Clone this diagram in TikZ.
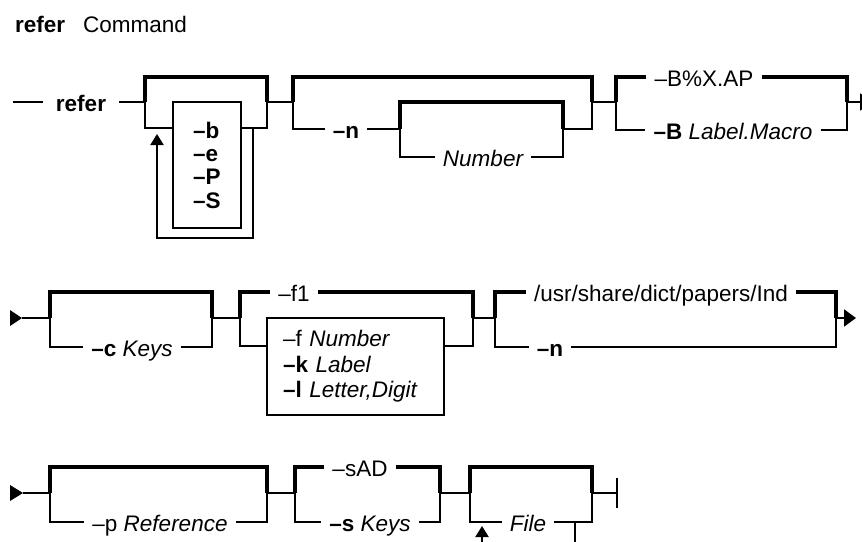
\documentclass[tikz,border=0pt]{standalone}
\usepackage{fontspec}
\setmainfont{Liberation Sans}
\usetikzlibrary{arrows.meta}
\newcommand{\railsize}{\fontsize{22.5}{24}\selectfont}
\tikzset{
  rail/.style={line width=2.2pt},
  railtop/.style={line width=4pt},
  lbl/.style={inner xsep=8pt,inner ysep=0pt,text height=19pt,text depth=1pt,
              font=\railsize},
  kw/.style={lbl,font=\railsize\bfseries},
  flagtxt/.style={anchor=base west,inner sep=0pt,font=\railsize\bfseries},
  optbox/.style={draw,line width=2.2pt,inner sep=0pt},
  railtip/.style={-{Triangle[length=12pt,width=17pt]}},
  looptip/.style={-{Triangle[length=11pt,width=13pt]}}
}

\begin{document}
\begin{tikzpicture}[x=1pt,y=-1pt,line join=miter]
  \useasboundingbox (0,0) rectangle (862,541);
  \clip (0,0) rectangle (862,541);

  % title
  \node[anchor=base west,inner sep=0pt,font=\railsize\bfseries] (cmdname) at (15,32) {refer};
  \node[anchor=base west,inner sep=0pt,font=\railsize] (cmdword) at (83,32) {Command};

  % row 1: refer, flags, -n Number, -B
  \coordinate (r1start) at (13,102);
  \node[kw,inner xsep=13pt] (refer) at (81,102) {refer};
  \coordinate (g1l) at (145,102);
  \coordinate (g1r) at (267,102);
  \draw[rail] (r1start) -- (refer.west);
  \draw[rail] (refer.east) -- (g1l);
  \draw[railtop] (g1l) -- ++(0,-25) -| (g1r);
  \node[optbox,minimum width=68pt,minimum height=126pt] (flagbox) at (207,165) {};
  \foreach \f/\yy in {b/138,e/161,P/184,S/208}
    \node[flagtxt] (flag\f) at (193,\yy) {--\f};
  \draw[rail] (g1l) |- ([yshift=-27pt]flagbox.north west);
  \draw[rail] ([yshift=-27pt]flagbox.north east) -| (g1r);
  \coordinate (loopr) at (253,129);
  \coordinate (loopl) at (157,134);
  \draw[rail,looptip] (loopr) -- ++(0,109) -| (loopl);

  \coordinate (g2l) at (293,102);
  \coordinate (g2r) at (592,102);
  \coordinate (g2il) at (400,129);
  \coordinate (g2ir) at (563,129);
  \draw[rail] (g1r) -- (g2l);
  \node[kw] (nflag) at (346,129) {--n};
  \node[lbl,font=\railsize\itshape] (number) at (483,157) {Number};
  \draw[railtop] (g2l) -- ++(0,-25) -| (g2r);
  \draw[rail] (g2l) |- (nflag.west);
  \draw[rail] (nflag.east) -- (g2il);
  \draw[railtop] (g2il) -- ++(0,-27) -| (g2ir);
  \draw[rail] (g2il) |- (number.west);
  \draw[rail] (number.east) -| (g2ir);
  \draw[rail] (g2ir) -| (g2r);

  \coordinate (g3l) at (616,102);
  \coordinate (g3r) at (847,102);
  \draw[rail] (g2r) -- (g3l);
  \node[lbl] (bdef) at (704,77) {--B\%X.AP};
  \node[lbl] (bmacro) at (733,130) {\textbf{--B} \textit{Label.Macro}};
  \draw[railtop] (g3l) |- (bdef.west);
  \draw[railtop] (bdef.east) -| (g3r);
  \draw[rail] (g3l) |- (bmacro.west);
  \draw[rail] (bmacro.east) -| (g3r);
  \coordinate (cont1) at (872,102);
  \draw[rail,railtip] (g3r) -- (cont1);

  % row 2: -c Keys, -f1 / box, papers
  \coordinate (r2start) at (22,318);
  \fill (10,310) -- (r2start) -- (10,326) -- cycle;
  \coordinate (g4l) at (50,318);
  \coordinate (g4r) at (212,318);
  \draw[rail] (r2start) -- (g4l);
  \node[lbl] (ckeys) at (132,347) {\textbf{--c} \textit{Keys}};
  \draw[railtop] (g4l) -- ++(0,-26) -| (g4r);
  \draw[rail] (g4l) |- (ckeys.west);
  \draw[rail] (ckeys.east) -| (g4r);

  \coordinate (g5l) at (240,318);
  \coordinate (g5r) at (473,318);
  \draw[rail] (g4r) -- (g5l);
  \node[lbl] (fone) at (294,292) {--f1};
  \node[optbox,text width=145pt,inner xsep=16pt,minimum height=97pt,align=left,
        font=\fontsize{22.5}{25.5}\selectfont] (fbox) at (355.5,366.5)
    {--f \textit{Number}\\\textbf{--k} \textit{Label}\\\textbf{--l} \textit{Letter,Digit}};
  \draw[railtop] (g5l) |- (fone.west);
  \draw[railtop] (fone.east) -| (g5r);
  \draw[rail] (g5l) |- ([yshift=-29pt]fbox.north west);
  \draw[rail] ([yshift=-29pt]fbox.north east) -| (g5r);

  \coordinate (g6l) at (495,318);
  \coordinate (g6r) at (836,318);
  \draw[rail] (g5r) -- (g6l);
  \node[lbl] (paperdir) at (661,292) {/usr/share/dict/papers/Ind};
  \node[kw] (nopt) at (550,347) {--n};
  \draw[railtop] (g6l) |- (paperdir.west);
  \draw[railtop] (paperdir.east) -| (g6r);
  \draw[rail] (g6l) |- (nopt.west);
  \draw[rail] (nopt.east) -| (g6r);
  \coordinate (r2end) at (856,318);
  \draw[rail,railtip] (g6r) -- (r2end);

  % row 3: -p Reference, -s, File
  \coordinate (r3start) at (23,493);
  \fill (10,485) -- (r3start) -- (10,501) -- cycle;
  \coordinate (g7l) at (50,493);
  \coordinate (g7r) at (267,493);
  \draw[rail] (r3start) -- (g7l);
  \node[lbl] (pref) at (160,522) {--p \textit{Reference}};
  \draw[railtop] (g7l) -- ++(0,-26) -| (g7r);
  \draw[rail] (g7l) |- (pref.west);
  \draw[rail] (pref.east) -| (g7r);

  \coordinate (g8l) at (295,493);
  \coordinate (g8r) at (440,493);
  \draw[rail] (g7r) -- (g8l);
  \node[lbl] (sad) at (360,467) {--sAD};
  \node[lbl] (skeys) at (370,522) {\textbf{--s} \textit{Keys}};
  \draw[railtop] (g8l) |- (sad.west);
  \draw[railtop] (sad.east) -| (g8r);
  \draw[rail] (g8l) |- (skeys.west);
  \draw[rail] (skeys.east) -| (g8r);

  \coordinate (g9l) at (470,493);
  \coordinate (g9r) at (592,493);
  \draw[rail] (g8r) -- (g9l);
  \node[lbl,font=\railsize\itshape] (file) at (528,522) {File};
  \draw[railtop] (g9l) -- ++(0,-26) -| (g9r);
  \draw[rail] (g9l) |- (file.west);
  \draw[rail] (file.east) -| (g9r);
  \coordinate (fileloopr) at (575,522);
  \coordinate (fileloopl) at (482,526);
  \draw[rail,looptip] (fileloopr) -- ++(0,30) -| (fileloopl);
  \coordinate (r3end) at (617,493);
  \draw[rail] (g9r) -- (r3end);
  \draw[rail] ([yshift=15pt]r3end) -- ([yshift=-15pt]r3end);
\end{tikzpicture}
\end{document}
